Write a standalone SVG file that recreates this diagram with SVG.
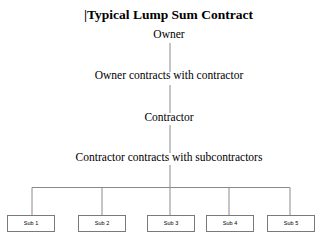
<svg xmlns="http://www.w3.org/2000/svg" width="330" height="238" viewBox="0 0 330 238">
<style>
.t{font-family:"Liberation Serif","Times New Roman",serif;fill:#000;text-anchor:middle}
.s{font-family:"Liberation Sans",Arial,sans-serif;font-size:5.5px;fill:#000;text-anchor:middle}
.ln{stroke:#8a8a8a;stroke-width:1;fill:none}
.bx{fill:#fff;stroke:#7a7a7a;stroke-width:1}
</style>
<rect width="330" height="238" fill="#fff"/>
<g id="title"><text class="t" x="168.5" y="19" font-size="13.5" font-weight="bold">|Typical Lump Sum Contract</text></g>
<g id="connectors">
<path class="ln" d="M170 43V72M170 85V113M170 125V153M170 165V216M32 187.5H290M32 187.5V216M102 187.5V216M229 187.5V216M290 187.5V216"/>
</g>
<g id="owner"><text class="t" x="169" y="38" font-size="11.5">Owner</text></g>
<g id="owner-contract"><text class="t" x="169" y="79" font-size="11.5">Owner contracts with contractor</text></g>
<g id="contractor"><text class="t" x="169" y="121" font-size="11.5">Contractor</text></g>
<g id="contractor-contract"><text class="t" x="169" y="161" font-size="11.5">Contractor contracts with subcontractors</text></g>
<g id="sub1"><rect class="bx" x="7.5" y="215.5" width="47" height="16"/><text class="s" x="31" y="225">Sub 1</text></g>
<g id="sub2"><rect class="bx" x="78.5" y="215.5" width="47" height="16"/><text class="s" x="102" y="225">Sub 2</text></g>
<g id="sub3"><rect class="bx" x="147.5" y="215.5" width="47" height="16"/><text class="s" x="171" y="225">Sub 3</text></g>
<g id="sub4"><rect class="bx" x="206.5" y="215.5" width="47" height="16"/><text class="s" x="230" y="225">Sub 4</text></g>
<g id="sub5"><rect class="bx" x="267.5" y="215.5" width="47" height="16"/><text class="s" x="291" y="225">Sub 5</text></g>
</svg>
